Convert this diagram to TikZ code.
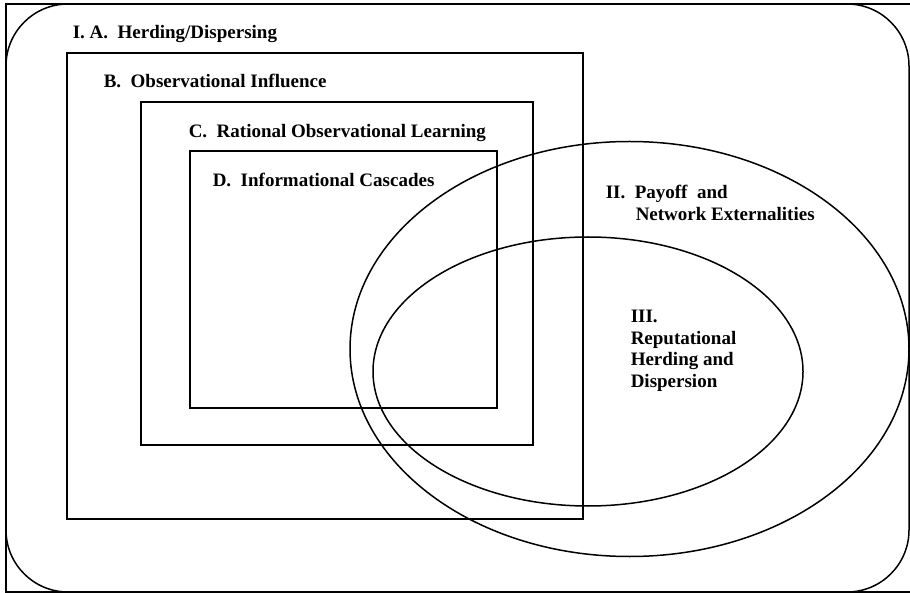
\documentclass[tikz,border=0pt]{standalone}
\usepackage{fontspec}
\setmainfont{Liberation Serif}
\begin{document}
\begin{tikzpicture}[x=1pt,y=-1pt,line width=1.5pt,
  lbl/.style={anchor=base west,inner sep=0pt,font=\fontsize{19}{21.5}\selectfont\bfseries}]
\useasboundingbox (0,0) rectangle (910,593);
% outer frame
\draw[line width=1.2pt] (6,4) rectangle (916,592);
\draw[rounded corners=62pt] (6,4) rectangle (909,592);
% nested boxes
\draw (67,53) rectangle (583,519);
\draw (141,102) rectangle (533,445);
\draw (190,151) rectangle (497,408);
% ellipses
\draw (629.5,349) ellipse [x radius=279.5pt, y radius=207.5pt];
\draw (588,371.5) ellipse [x radius=215pt, y radius=134.5pt];
% labels
\node[lbl] (la) at (72,39) {I. A.~~Herding/Dispersing};
\node[lbl] (lb) at (103,88) {B.~~Observational Influence};
\node[lbl] (lc) at (188,138) {C.~~Rational Observational Learning};
\node[lbl] (ld) at (212,187) {D.~~Informational Cascades};
\node[lbl] (l2a) at (605,199) {II.~~Payoff~~and};
\node[lbl] (l2b) at (635,221) {Network Externalities};
\node[lbl] (l3a) at (630,323) {III.};
\node[lbl] (l3b) at (630,344.5) {Reputational};
\node[lbl] (l3c) at (630,366) {Herding and};
\node[lbl] (l3d) at (630,387.5) {Dispersion};
\end{tikzpicture}
\end{document}
